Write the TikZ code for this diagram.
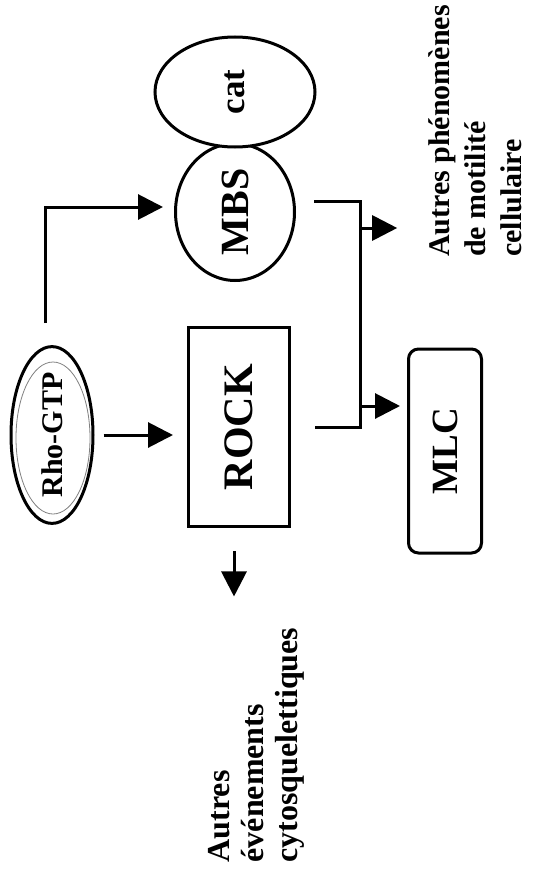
\documentclass[tikz,border=0pt]{standalone}
\usepackage{fontspec}
\setmainfont{Liberation Serif}
\usetikzlibrary{arrows.meta, positioning, shapes.geometric}

\begin{document}
\begin{tikzpicture}[
    x=1pt, y=-1pt,
    >={Triangle[length=25pt, width=25pt]},
    link/.style={draw, line width=3pt},
    arrow/.style={->, line width=3pt},
    protein/.style={draw, ellipse, line width=3pt, inner sep=0pt, rotate=90},
    kinase/.style={draw, rectangle, line width=3pt, inner sep=0pt, rotate=90},
    note/.style={rotate=90, align=left, inner sep=0pt}
]
\useasboundingbox (0,0) rectangle (537,875);

%-------------------------------------------------
% Proteins
%-------------------------------------------------
\node[protein, minimum width=137pt, minimum height=119pt,
      font=\bfseries\fontsize{40}{44}\selectfont] (mbs) at (235,212) {MBS};
\node[protein, fill=white, minimum width=110pt, minimum height=160pt,
      font=\bfseries\fontsize{35}{40}\selectfont] (cat) at (235,92) {cat};
\node[protein, minimum width=173pt, minimum height=82pt,
      font=\bfseries\fontsize{30}{34}\selectfont] (rho) at (52,435) {Rho-GTP};
\draw[gray, line width=0.8pt] ([shift={(1pt,-3pt)}]rho.center) ellipse [x radius=37, y radius=76];

\node[kinase, minimum width=199pt, minimum height=101pt,
      font=\bfseries\fontsize{42}{46}\selectfont] (rock) at (239,427) {ROCK};
\node[kinase, rounded corners=10pt, minimum width=204pt, minimum height=73pt,
      font=\bfseries\fontsize{37}{40}\selectfont] (mlc) at (445,451) {MLC};

%-------------------------------------------------
% Outcomes
%-------------------------------------------------
\node[note, font=\bfseries\fontsize{32}{34}\selectfont] (evenements) at (256,745)
    {Autres\\événements\\cytosquelettiques};
\node[note, font=\bfseries\fontsize{30}{36}\selectfont] (motilite) at (475,131)
    {Autres phénomènes\\de motilité\\cellulaire};

%-------------------------------------------------
% Connectors
%-------------------------------------------------
\draw[arrow, shorten <=9pt, shorten >=14pt] (rho.south) -- (rho.south -| rock.north);
\draw[arrow, shorten <=22pt, shorten >=11pt] ([xshift=-7pt]rho.east) |- ([yshift=5pt]mbs.north);

\coordinate (bus) at (360,300);
\draw[link, shorten <=18pt, shorten >=24pt] ([yshift=11pt]mbs.south) -| (bus) |- (rock.south);

\coordinate (b1) at (360,228);
\coordinate (b2) at (360,406);
\draw[arrow, shorten >=31pt] (b1) -- (b1 -| motilite.north);
\draw[arrow, shorten >=7pt] (b2) -- (b2 -| mlc.north);

\draw[arrow, shorten <=23pt, shorten >=31pt] ([xshift=-5pt]rock.west) -- ([xshift=-5pt]rock.west |- evenements.east);

\end{tikzpicture}
\end{document}
